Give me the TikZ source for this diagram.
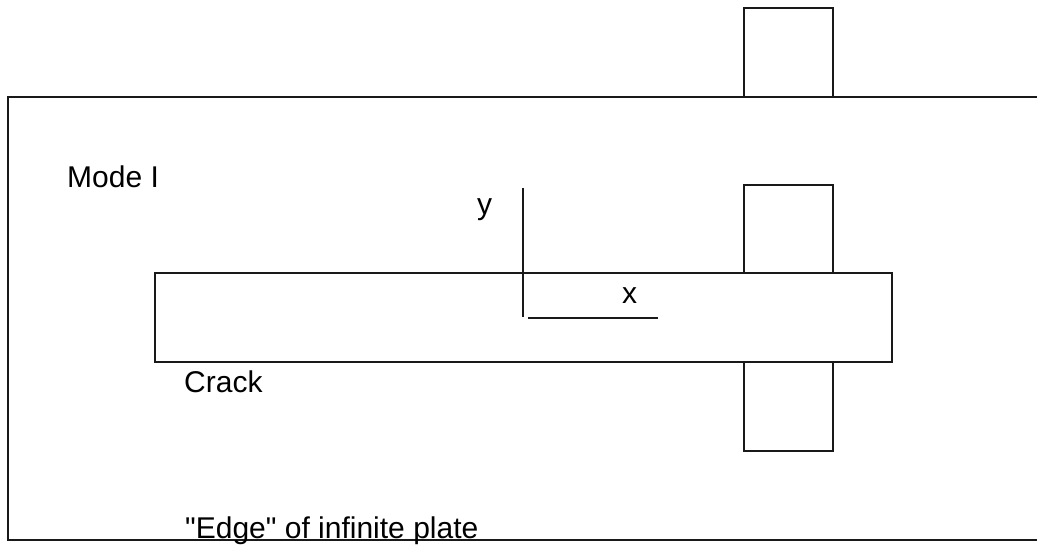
\documentclass[tikz,border=0pt]{standalone}
\usepackage{fontspec}
\setmainfont{Liberation Sans}
\begin{document}
\begin{tikzpicture}[x=1pt,y=-1pt,
  box/.style={draw=black!90, line width=2pt, inner sep=0pt, outer sep=0pt, fill=none},
  lbl/.style={anchor=base west, inner sep=0pt, font=\fontsize{30}{36}\selectfont},
  axis/.style={draw=black!90, line width=1.2pt},
  frame/.style={draw=black!90, line width=2pt}]
\useasboundingbox (0,0) rectangle (1037,544);
% plate edge
\coordinate (tr) at (1037,97);
\coordinate (tl) at (8,97);
\coordinate (bl) at (8,540);
\coordinate (br) at (1037,540);
\draw[frame] (tr) -- (tl) -- (bl) -- (br);
% boxes
\node[box, minimum width=89pt, minimum height=89pt] (top) at (788.5,52.5) {};
\node[box, minimum width=737pt, minimum height=89pt] (crack) at (523.5,317.5) {};
\node[box, minimum width=89pt, minimum height=88pt] (above) at (788.5,229) {};
\node[box, minimum width=89pt, minimum height=89pt] (below) at (788.5,406.5) {};
% axes
\coordinate (ytop) at (523,188);
\coordinate (ybot) at (523,317);
\coordinate (xl) at (528,318);
\coordinate (xr) at (658,318);
\draw[axis] (ytop) -- (ybot);
\draw[axis] (xl) -- (xr);
% labels
\node[lbl] (mode) at (67,187) {Mode I};
\node[lbl] (ylab) at (477,214) {y};
\node[lbl] (xlab) at (622,303) {x};
\node[lbl] (cracklbl) at (184,392) {Crack};
\node[lbl] (edge) at (185,538) {\textquotedbl Edge\textquotedbl{} of infinite plate};
\end{tikzpicture}
\end{document}
